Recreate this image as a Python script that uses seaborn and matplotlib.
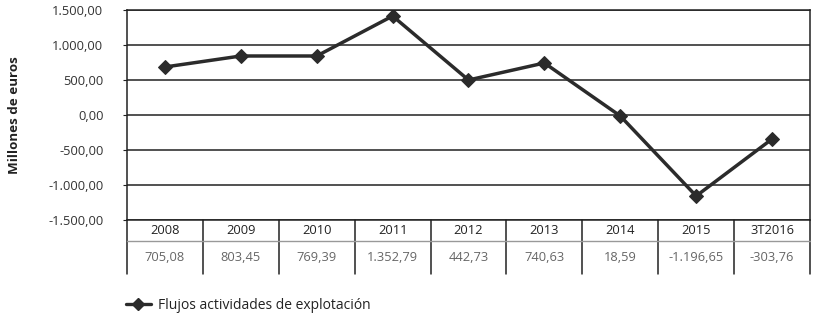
import matplotlib
matplotlib.use("Agg")
import matplotlib.pyplot as plt
import pandas as pd
import seaborn as sns

periods = ["2008", "2009", "2010", "2011", "2012", "2013", "2014", "2015", "3T2016"]
# plotted positions
plotted = [686, 843, 843, 1414, 500, 743, -14, -1157, -343]
# data table row as printed
table_labels = ["705,08", "803,45", "769,39", "1.352,79", "442,73",
                "740,63", "18,59", "-1.196,65", "-303,76"]
y_ticks = [-1500, -1000, -500, 0, 500, 1000, 1500]
y_tick_labels = ["-1.500,00", "-1.000,00", "-500,00", "0,00",
                 "500,00", "1.000,00", "1.500,00"]
series_name = "Flujos actividades de explotación"

sns.set_style("white")
plt.rcParams["font.family"] = ["Open Sans", "DejaVu Sans"]

df = pd.DataFrame({"idx": range(len(periods)), "value": plotted,
                   "serie": series_name})

fig = plt.figure(figsize=(8.2, 3.16), dpi=100)
ax = fig.add_axes([127 / 820, 1 - 220 / 316, 683 / 820, 210 / 316])

line_color = "#2b2b2b"
sns.lineplot(data=df, x="idx", y="value", marker="D", color=line_color,
             linewidth=2.5, markersize=7, markeredgecolor=line_color,
             ax=ax, legend=False)

ax.set_xlim(-0.5, len(periods) - 0.5)
ax.set_ylim(-1500, 1500)
ax.set_yticks(y_ticks)
ax.set_yticklabels(y_tick_labels, fontsize=9.3, color="#333333")
ax.set_xticks([])
ax.set_xlabel("")
ax.set_ylabel("Millones de euros", fontsize=9.6, fontweight="bold",
              color="#222222")
ax.yaxis.set_label_coords(-0.155, 0.5)
ax.tick_params(axis="y", length=3, pad=14, color="#222222", left=True)
for yv in y_ticks:
    ax.axhline(yv, color="#222222", linewidth=1.1, zorder=0)
for side in ["left", "right", "top", "bottom"]:
    ax.spines[side].set_visible(True)
    ax.spines[side].set_color("#222222")
    ax.spines[side].set_linewidth(1.1)

# data table below the axes
tr = ax.get_xaxis_transform()
h_row = -0.10
v_row = -0.257
for i in range(len(periods) + 1):
    ax.plot([i - 0.5, i - 0.5], [0, v_row], transform=tr, color="#222222",
            linewidth=1.1, clip_on=False)
ax.plot([-0.5, len(periods) - 0.5], [h_row, h_row], transform=tr,
        color="#999999", linewidth=1, clip_on=False)
for i, (p, v) in enumerate(zip(periods, table_labels)):
    ax.text(i, h_row / 2, p, transform=tr, ha="center", va="center",
            fontsize=9.3, color="#222222")
    ax.text(i, (h_row + v_row) / 2, v, transform=tr, ha="center",
            va="center", fontsize=9.3, color="#666666")

# legend
leg = ax.legend(handles=[plt.Line2D([], [], color=line_color, marker="D",
                                    linewidth=2.4, markersize=6)],
                labels=[series_name], loc="upper left",
                bbox_to_anchor=(-0.02, -0.31), frameon=False, fontsize=10,
                handlelength=1.8, handletextpad=0.5)
for t in leg.get_texts():
    t.set_color("#222222")

fig.savefig("out.png", dpi=100)
